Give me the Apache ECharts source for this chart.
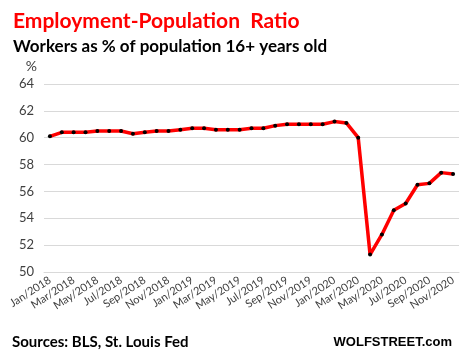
<!DOCTYPE html>
<html>
<head>
<meta charset="utf-8">
<script src="https://cdn.jsdelivr.net/npm/echarts@6/dist/echarts.min.js"></script>
<style>
  html, body { margin: 0; padding: 0; background: #fff; }
  #chart { width: 464px; height: 351px; }
</style>
</head>
<body>
<div id="chart"></div>
<script>
// 月份 Jan/2018 .. Nov/2020
var months = []
var monthNames = ["Jan", "Feb", "Mar", "Apr", "May", "Jun", "Jul", "Aug", "Sep", "Oct", "Nov", "Dec"]
for (var y = 2018; y <= 2020; y++) {
    for (var m = 0; m < 12; m++) {
        if (y === 2020 && m > 10) break
        months.push(monthNames[m] + "/" + y)
    }
}

// 就业人口比 (%)
var ratio2018 = [60.1, 60.4, 60.4, 60.4, 60.5, 60.5, 60.5, 60.3, 60.4, 60.5, 60.5, 60.6]
var ratio2019 = [60.7, 60.7, 60.6, 60.6, 60.6, 60.7, 60.7, 60.9, 61.0, 61.0, 61.0, 61.0]
var ratio2020 = [61.2, 61.1, 60.0, 51.3, 52.8, 54.6, 55.1, 56.5, 56.6, 57.4, 57.3]
var ratio = ratio2018.concat(ratio2019, ratio2020)

var yTicks = [50, 52, 54, 56, 58, 60, 62, 64]

var myEcharts = echarts.init(document.getElementById("chart"))
var option = {
    animation: false,
    backgroundColor: "#fff",
    title: [
        {
            text: "Employment-Population  Ratio",
            left: 8, top: 6,
            textStyle: { color: "#ff0000", fontFamily: "Lato", fontWeight: "bold", fontSize: 21 }
        },
        {
            text: "Workers as % of population 16+ years old",
            left: 8, top: 33,
            textStyle: { color: "#000", fontFamily: "Lato", fontWeight: "bold", fontSize: 17 }
        },
        {
            text: "Sources: BLS, St. Louis Fed",
            left: 7, top: 330,
            textStyle: { color: "#000", fontFamily: "Lato", fontWeight: "bold", fontSize: 15 }
        },
        {
            text: "WOLFSTREET.com",
            right: 7, top: 331,
            textStyle: { color: "#000", fontFamily: "Liberation Sans", fontWeight: 900, fontSize: 13 }
        }
    ],
    grid: { left: 44, right: 5, top: 84, bottom: 79 },
    xAxis: {
        type: "category",
        data: months,
        boundaryGap: true,
        axisLine: { lineStyle: { color: "#d9d9d9" } },
        axisTick: { interval: 1, length: 5, lineStyle: { color: "#d9d9d9" } },
        axisLabel: {
            interval: 1, rotate: 33, margin: 7,
            color: "#404040", fontFamily: "Lato", fontSize: 11
        }
    },
    yAxis: {
        type: "value",
        min: yTicks[0], max: yTicks[yTicks.length - 1], interval: 2,
        name: "%",
        nameLocation: "end",
        nameGap: 11,
        nameTextStyle: { color: "#404040", fontFamily: "Lato", fontSize: 14, align: "right", padding: [0, 7, 0, 0] },
        axisLine: { show: false },
        axisTick: { show: false },
        axisLabel: { color: "#404040", fontFamily: "Lato", fontSize: 13, margin: 10 },
        splitLine: { lineStyle: { color: "#d9d9d9", width: 1 } }
    },
    series: [{
        type: "line",
        data: ratio,
        symbol: "circle",
        symbolSize: 4,
        itemStyle: { color: "#000" },
        lineStyle: { color: "#ff0000", width: 3.5 },
        z: 3
    }]
}
myEcharts.setOption(option)
</script>
</body>
</html>
